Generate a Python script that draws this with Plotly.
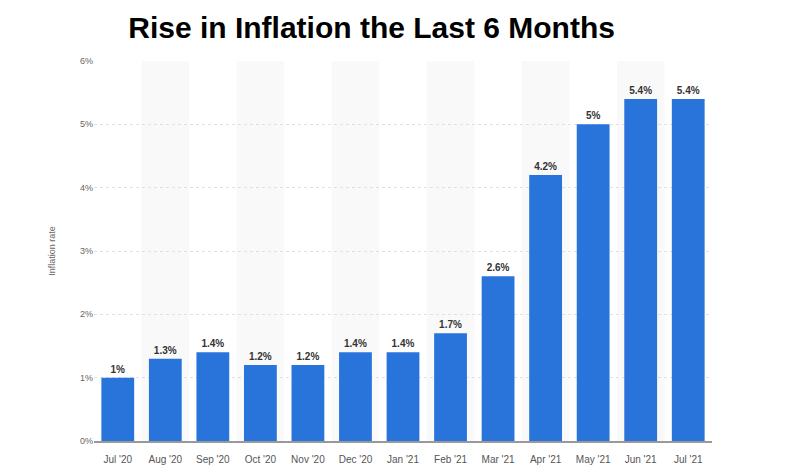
import plotly.graph_objects as go

months = ["Jul '20", "Aug '20", "Sep '20", "Oct '20", "Nov '20", "Dec '20", "Jan '21",
          "Feb '21", "Mar '21", "Apr '21", "May '21", "Jun '21", "Jul '21"]
inflation = [1.0, 1.3, 1.4, 1.2, 1.2, 1.4, 1.4, 1.7, 2.6, 4.2, 5.0, 5.4, 5.4]
labels = ["1%", "1.3%", "1.4%", "1.2%", "1.2%", "1.4%", "1.4%", "1.7%", "2.6%", "4.2%", "5%", "5.4%", "5.4%"]

fig = go.Figure()
fig.add_trace(go.Bar(
    x=months, y=inflation, text=labels, textposition="outside",
    textfont=dict(family="Liberation Sans", size=10, color="#333333", weight="bold"),
    marker=dict(color="#2874DB", line=dict(width=0)),
    cliponaxis=False, hoverinfo="skip",
))

shapes = []
for i in range(1, len(months), 2):
    shapes.append(dict(type="rect", xref="x", yref="paper", x0=i - 0.5, x1=i + 0.5,
                       y0=0, y1=1, fillcolor="#f9f9f9", line=dict(width=0), layer="below"))
fig.update_layout(
    width=787, height=476,
    margin=dict(l=86, r=83, t=53, b=43),
    paper_bgcolor="white", plot_bgcolor="white",
    bargap=0.31, shapes=shapes, showlegend=False,
    title=dict(text="<b>Rise in Inflation the Last 6 Months</b>", x=0.462, xanchor="center",
               y=0.982, yanchor="top",
               font=dict(family="Liberation Sans", size=30, color="black")),
    xaxis=dict(showgrid=False, showline=True, linecolor="#999999", linewidth=2,
               ticks="", ticklabelstandoff=8,
               tickfont=dict(family="Liberation Sans", size=10, color="#555555")),
    yaxis=dict(range=[0, 6], dtick=1, ticksuffix="%", showgrid=True, gridcolor="#e0e0e0",
               griddash="dot", zeroline=False, showline=False, ticks="",
               tickfont=dict(family="Liberation Sans", size=9, color="#666666"),
               title=dict(text="Inflation rate", standoff=22,
                          font=dict(family="Liberation Sans", size=9, color="#666666"))),
)
fig.write_html("out.html")
